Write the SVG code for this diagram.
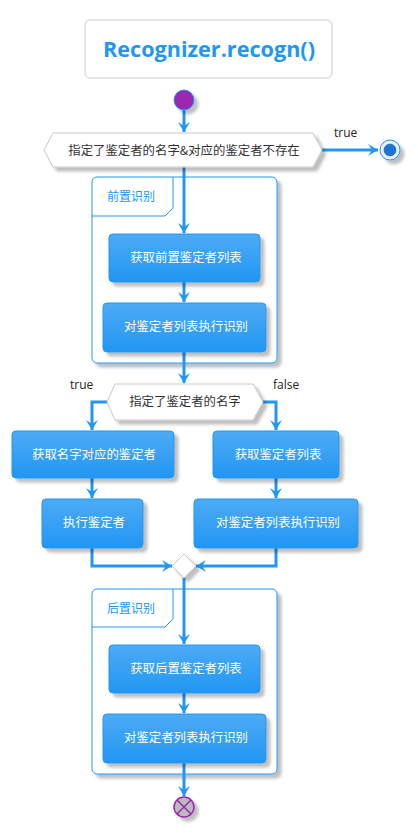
<svg xmlns="http://www.w3.org/2000/svg" width="418" height="833" viewBox="0 0 418 833">
<defs>
<linearGradient id="bg" x1="0" y1="0" x2="0" y2="1"><stop offset="0" stop-color="#4DABF5"/><stop offset="1" stop-color="#2196F3"/></linearGradient>
<filter id="sh" x="-20%" y="-20%" width="150%" height="160%"><feDropShadow dx="4" dy="4" stdDeviation="1.5" flood-color="#000" flood-opacity="0.25"/></filter>
<marker id="ah" viewBox="0 0 10 12" refX="10" refY="6" markerWidth="10" markerHeight="12" markerUnits="userSpaceOnUse" orient="auto"><path d="M0,0 L10,6 L0,12 L4,6 Z" fill="#2196F3"/></marker>
</defs>
<style>
.act rect{fill:url(#bg);stroke:#2196F3;stroke-width:1;filter:url(#sh)}
.act text{fill:#fff;font-family:"Noto Sans CJK SC",sans-serif;font-size:12.4px;text-anchor:middle}
.dec polygon{fill:#fff;stroke:#c8c8c8;stroke-width:1;filter:url(#sh)}
.dec text{fill:#333;font-family:"Noto Sans CJK SC",sans-serif;font-size:12.4px;text-anchor:middle}
.grp rect{fill:#fff;stroke:#2196F3;stroke-width:1;filter:url(#sh)}
.grp path{fill:none;stroke:#2196F3;stroke-width:1}
.grp text{fill:#2196F3;font-family:"Noto Sans CJK SC",sans-serif;font-size:12px}
.lbl{fill:#222;font-family:"Open Sans","Noto Sans",sans-serif;font-size:12px}
#conn line,#conn polyline{fill:none;stroke:#2196F3;stroke-width:3}
.arr{marker-end:url(#ah)}
</style>
<rect width="418" height="833" fill="#fff"/>
<g id="title">
<rect x="85" y="20" width="247" height="58" rx="5" fill="#fff" stroke="#ccc" stroke-width="1"/>
<text x="209" y="57" text-anchor="middle" font-family="'Open Sans','Noto Sans',sans-serif" font-weight="bold" font-size="21" textLength="212" lengthAdjust="spacingAndGlyphs" fill="#2196F3">Recognizer.recogn()</text>
</g>
<g id="grp1" class="grp">
<rect x="92" y="177" width="185" height="186" rx="5"/>
<path d="M92,216 H165 L173,208 V177"/>
<text x="107" y="201">前置识别</text>
</g>
<g id="grp2" class="grp">
<rect x="92" y="589" width="185" height="185" rx="5"/>
<path d="M92,627 H165 L173,619 V589"/>
<text x="107" y="613">后置识别</text>
</g>
<g id="conn">
<line class="arr" x1="184" y1="110" x2="184" y2="132"/>
<line class="arr" x1="322" y1="150" x2="378" y2="150"/>
<line class="arr" x1="184" y1="167" x2="184" y2="233"/>
<line class="arr" x1="184" y1="282" x2="184" y2="302"/>
<line class="arr" x1="184" y1="352" x2="184" y2="383"/>
<polyline class="arr" points="107,402 92,402 92,430"/>
<polyline class="arr" points="263,402 276,402 276,430"/>
<line class="arr" x1="92" y1="478" x2="92" y2="498"/>
<line class="arr" x1="276" y1="478" x2="276" y2="498"/>
<polyline class="arr" points="92,548 92,566 172,566"/>
<polyline class="arr" points="276,548 276,566 196,566"/>
<line class="arr" x1="184" y1="578" x2="184" y2="644"/>
<line class="arr" x1="184" y1="693" x2="184" y2="713"/>
<line class="arr" x1="184" y1="763" x2="184" y2="796"/>
</g>
<g id="start"><circle cx="184" cy="100" r="10" fill="#9C27B0" stroke="#2196F3" stroke-width="1" filter="url(#sh)"/></g>
<g id="d1" class="dec">
<polygon points="44,150 53,133 313,133 322,150 313,167 53,167"/>
<text x="184" y="155">指定了鉴定者的名字&amp;对应的鉴定者不存在</text>
</g>
<text class="lbl" x="334" y="137">true</text>
<g id="end1"><circle cx="390" cy="150" r="10" fill="#eee" stroke="#2196F3" stroke-width="1" filter="url(#sh)"/><circle cx="390" cy="150" r="6" fill="#1976D2" stroke="#0d47a1" stroke-width="0.5"/></g>
<g id="a1" class="act"><rect x="109" y="234" width="151" height="48" rx="4"/><text x="186" y="262">获取前置鉴定者列表</text></g>
<g id="a2" class="act"><rect x="103" y="303" width="163" height="49" rx="4"/><text x="186" y="331">对鉴定者列表执行识别</text></g>
<g id="d2" class="dec">
<polygon points="107,402 115,384 253,384 263,402 253,420 115,420"/>
<text x="185" y="406">指定了鉴定者的名字</text>
</g>
<text class="lbl" x="70" y="389">true</text>
<g id="lf"><text class="lbl" x="273" y="389">false</text></g>
<g id="a3" class="act"><rect x="12" y="431" width="162" height="47" rx="4"/><text x="94" y="459">获取名字对应的鉴定者</text></g>
<g id="a4" class="act"><rect x="42" y="499" width="101" height="49" rx="4"/><text x="94" y="527">执行鉴定者</text></g>
<g id="a5" class="act"><rect x="213" y="431" width="126" height="47" rx="4"/><text x="278" y="459">获取鉴定者列表</text></g>
<g id="a6" class="act"><rect x="194" y="499" width="164" height="49" rx="4"/><text x="278" y="527">对鉴定者列表执行识别</text></g>
<g id="merge" class="dec"><polygon points="184,554 196,566 184,578 172,566"/></g>
<g id="a7" class="act"><rect x="109" y="645" width="151" height="48" rx="4"/><text x="186" y="673">获取后置鉴定者列表</text></g>
<g id="a8" class="act"><rect x="103" y="714" width="163" height="49" rx="4"/><text x="186" y="742">对鉴定者列表执行识别</text></g>
<g id="stop"><circle cx="184" cy="807" r="10" fill="#bbb" stroke="#9C27B0" stroke-width="1.5" filter="url(#sh)"/><path d="M177,800 L191,814 M191,800 L177,814" stroke="#9C27B0" stroke-width="1.5"/></g>
</svg>
